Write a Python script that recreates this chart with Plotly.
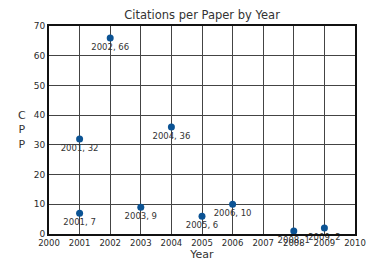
import plotly.graph_objects as go

years = [2001, 2001, 2002, 2003, 2004, 2005, 2006, 2008, 2009]
cpp = [32, 7, 66, 9, 36, 6, 10, 1, 2]
labels = [f"{y}, {v}" for y, v in zip(years, cpp)]

fig = go.Figure(go.Scatter(
    x=years, y=cpp, mode="markers+text", text=labels,
    textposition="bottom center",
    textfont=dict(family="DejaVu Sans", size=8.5, color="#333333"),
    marker=dict(color="#0b5394", size=7),
    cliponaxis=False,
))

fig.update_layout(
    width=369, height=259,
    margin=dict(l=41, r=22, t=18, b=33, autoexpand=False),
    paper_bgcolor="white", plot_bgcolor="white",
    showlegend=False,
    title=dict(text="Citations per Paper by Year", x=0.526, xanchor="center",
               y=0.975, yanchor="middle",
               font=dict(family="DejaVu Sans", size=11.5, color="#333333")),
    font=dict(family="DejaVu Sans", color="#333333"),
)
fig.update_xaxes(range=[2000, 2010], dtick=1, tick0=2000, automargin=False,
                 showgrid=True, gridcolor="#444444", gridwidth=1,
                 showline=True, linecolor="#111111", linewidth=2, mirror=True,
                 zeroline=False, ticks="",
                 tickfont=dict(size=8.5, color="#2a2a2a"),
                 title=dict(text="Year", standoff=2,
                            font=dict(size=11, color="#333333")))
fig.update_yaxes(range=[0, 70], dtick=10, automargin=False,
                 showgrid=True, gridcolor="#444444", gridwidth=1,
                 showline=True, linecolor="#111111", linewidth=2, mirror=True,
                 zeroline=False, ticks="",
                 tickfont=dict(size=9, color="#2a2a2a"))
fig.add_annotation(text="C<br>P<br>P", xref="paper", yref="paper",
                   x=-0.088, y=0.5, xanchor="center", yanchor="middle",
                   showarrow=False, align="center",
                   font=dict(family="DejaVu Sans", size=11, color="#333333"))

fig.write_html("out.html")
